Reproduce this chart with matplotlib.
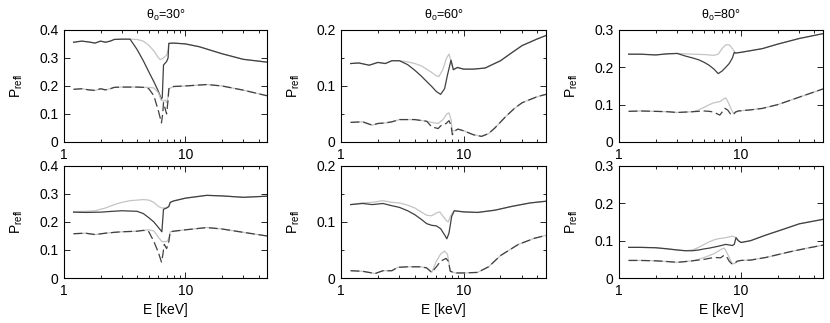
import numpy as np
import matplotlib
matplotlib.use('Agg')
import matplotlib.pyplot as plt
from matplotlib.ticker import MultipleLocator, LogLocator, NullFormatter, FixedLocator

plt.rcParams['font.family'] = ['Liberation Sans', 'DejaVu Sans']
plt.rcParams['mathtext.fontset'] = 'custom'
plt.rcParams['mathtext.rm'] = 'Liberation Sans'
plt.rcParams['mathtext.it'] = 'Liberation Sans:italic'

# ---- data (E in keV, P_refl) ----
angles = ['30', '60', '80']
ylims = [0.4, 0.2, 0.3]

# theta=30, top row
a_dark_E = [1.2, 1.4, 1.6, 1.8, 2.0, 2.2, 2.4, 2.6, 3.0, 3.5, 4.0, 4.5, 5.0, 5.5, 6.0, 6.35, 6.45, 6.6, 7.0, 7.2, 7.3, 8, 10, 13, 20, 30, 47]
a_dark_P = [0.356, 0.36, 0.357, 0.353, 0.36, 0.356, 0.36, 0.366, 0.367, 0.367, 0.33, 0.29, 0.25, 0.215, 0.18, 0.152, 0.16, 0.275, 0.287, 0.30, 0.352, 0.353, 0.35, 0.34, 0.315, 0.295, 0.285]
a_light_E = [1.2, 1.4, 1.6, 1.8, 2.0, 2.2, 2.4, 2.6, 3.0, 3.5, 4.0, 4.5, 5.0, 5.5, 6.0, 6.2, 6.5, 7.0, 7.2, 7.3, 8, 10, 13, 20, 30, 47]
a_light_P = [0.356, 0.36, 0.357, 0.353, 0.36, 0.356, 0.36, 0.366, 0.367, 0.367, 0.366, 0.36, 0.345, 0.325, 0.30, 0.294, 0.298, 0.31, 0.33, 0.352, 0.353, 0.35, 0.34, 0.315, 0.295, 0.285]
a_ldark_E = [1.2, 1.4, 1.6, 1.8, 2.0, 2.2, 2.4, 2.6, 3.0, 4.0, 4.5, 5.0, 5.5, 6.0, 6.35, 6.5, 6.6, 6.8, 7.0, 7.2, 7.3, 8, 10, 15, 20, 30, 47]
a_ldark_P = [0.188, 0.19, 0.186, 0.184, 0.19, 0.186, 0.19, 0.195, 0.196, 0.196, 0.195, 0.19, 0.165, 0.11, 0.068, 0.10, 0.14, 0.12, 0.10, 0.15, 0.19, 0.198, 0.20, 0.205, 0.20, 0.185, 0.165]
a_llight_E = [1.2, 1.4, 1.6, 1.8, 2.0, 2.2, 2.4, 2.6, 3.0, 4.0, 4.5, 5.0, 5.5, 6.0, 6.3, 6.6, 6.8, 7.0, 7.2, 7.3, 8, 10, 15, 20, 30, 47]
a_llight_P = [0.188, 0.19, 0.186, 0.184, 0.19, 0.186, 0.19, 0.195, 0.196, 0.196, 0.195, 0.195, 0.193, 0.175, 0.15, 0.145, 0.15, 0.14, 0.16, 0.19, 0.198, 0.20, 0.205, 0.20, 0.185, 0.165]

# theta=60, top row
b_dark_E = [1.2, 1.4, 1.7, 2.0, 2.3, 2.6, 3.0, 3.5, 4.0, 4.5, 5.0, 5.5, 6.0, 6.5, 7.0, 7.4, 7.9, 8.25, 8.9, 10, 12, 15, 20, 25, 30, 40, 47]
b_dark_P = [0.14, 0.141, 0.137, 0.142, 0.14, 0.145, 0.145, 0.138, 0.128, 0.118, 0.108, 0.099, 0.09, 0.085, 0.095, 0.12, 0.146, 0.129, 0.133, 0.13, 0.13, 0.132, 0.145, 0.16, 0.172, 0.184, 0.19]
b_light_E = [1.2, 1.4, 1.7, 2.0, 2.3, 2.6, 3.0, 3.5, 4.0, 4.5, 5.0, 5.5, 6.0, 6.3, 6.8, 7.2, 7.6, 7.9, 8.25, 8.9, 10, 12, 15, 20, 25, 30, 40, 47]
b_light_P = [0.14, 0.141, 0.137, 0.142, 0.14, 0.145, 0.145, 0.143, 0.14, 0.136, 0.13, 0.124, 0.118, 0.117, 0.13, 0.148, 0.157, 0.145, 0.129, 0.133, 0.13, 0.13, 0.132, 0.145, 0.16, 0.172, 0.184, 0.19]
b_ldark_E = [1.2, 1.5, 1.8, 2.0, 2.3, 2.6, 3.0, 4.0, 5.0, 5.5, 6.2, 6.6, 7.2, 7.6, 7.9, 8.1, 8.5, 9.0, 10, 12, 14, 16, 18, 22, 26, 30, 40, 47]
b_ldark_P = [0.035, 0.036, 0.03, 0.033, 0.034, 0.036, 0.04, 0.04, 0.037, 0.027, 0.024, 0.03, 0.033, 0.038, 0.03, 0.013, 0.02, 0.023, 0.02, 0.013, 0.01, 0.015, 0.025, 0.045, 0.06, 0.07, 0.081, 0.085]
b_llight_E = [1.2, 1.5, 1.8, 2.0, 2.3, 2.6, 3.0, 4.0, 5.0, 5.5, 6.2, 6.8, 7.3, 7.6, 7.9, 8.1, 8.5, 9.0, 10, 12, 14, 16, 18, 22, 26, 30, 40, 47]
b_llight_P = [0.035, 0.036, 0.03, 0.033, 0.034, 0.036, 0.04, 0.04, 0.037, 0.035, 0.033, 0.04, 0.05, 0.052, 0.04, 0.02, 0.02, 0.023, 0.02, 0.013, 0.01, 0.015, 0.025, 0.045, 0.06, 0.07, 0.081, 0.085]

# theta=80, top row
c_dark_E = [1.2, 1.5, 2.0, 2.5, 3.0, 3.5, 4.0, 4.5, 5.0, 5.5, 6.0, 6.5, 7.0, 7.5, 8.0, 8.5, 8.8, 9.0, 10, 15, 20, 30, 47]
c_dark_P = [0.235, 0.235, 0.233, 0.236, 0.237, 0.23, 0.225, 0.22, 0.213, 0.205, 0.195, 0.183, 0.19, 0.20, 0.21, 0.225, 0.24, 0.238, 0.24, 0.25, 0.262, 0.277, 0.29]
c_light_E = [1.2, 1.5, 2.0, 2.5, 3.0, 4.0, 5.0, 6.0, 6.5, 7.0, 7.5, 8.0, 8.5, 9.0, 10, 15, 20, 30, 47]
c_light_P = [0.235, 0.235, 0.233, 0.236, 0.237, 0.235, 0.234, 0.232, 0.235, 0.25, 0.26, 0.26, 0.25, 0.238, 0.24, 0.25, 0.262, 0.277, 0.29]
c_ldark_E = [1.2, 1.5, 2.0, 2.5, 3.0, 4.0, 5.0, 5.5, 6.0, 6.4, 6.7, 7.0, 7.4, 7.8, 8.2, 8.6, 9.0, 9.5, 12, 15, 20, 30, 47]
c_ldark_P = [0.082, 0.083, 0.082, 0.081, 0.079, 0.081, 0.083, 0.082, 0.08, 0.075, 0.072, 0.08, 0.09, 0.085, 0.075, 0.072, 0.08, 0.083, 0.086, 0.09, 0.10, 0.12, 0.142]
c_llight_E = [1.2, 1.5, 2.0, 2.5, 3.0, 4.0, 4.5, 5.0, 5.5, 6.0, 6.7, 7.2, 7.5, 7.8, 8.2, 8.6, 9.0, 9.5, 12, 15, 20, 30, 47]
c_llight_P = [0.082, 0.083, 0.082, 0.081, 0.079, 0.081, 0.086, 0.093, 0.10, 0.105, 0.108, 0.115, 0.118, 0.108, 0.092, 0.078, 0.08, 0.083, 0.086, 0.09, 0.10, 0.12, 0.142]

# theta=30, bottom row
d_dark_E = [1.2, 1.5, 2.0, 2.5, 3.0, 4.0, 4.5, 5.0, 5.5, 6.0, 6.4, 6.6, 7.0, 7.3, 7.5, 8, 10, 15, 20, 30, 47]
d_dark_P = [0.235, 0.234, 0.235, 0.238, 0.24, 0.238, 0.23, 0.215, 0.20, 0.18, 0.165, 0.245, 0.25, 0.255, 0.27, 0.275, 0.285, 0.295, 0.293, 0.288, 0.292]
d_light_E = [1.2, 1.5, 1.8, 2.2, 2.6, 3.0, 3.5, 4.0, 4.5, 5.0, 5.5, 6.0, 6.4, 7.0, 7.3, 7.5, 8, 10, 15, 20, 30, 47]
d_light_P = [0.237, 0.238, 0.24, 0.25, 0.262, 0.27, 0.276, 0.278, 0.28, 0.278, 0.27, 0.255, 0.25, 0.25, 0.255, 0.27, 0.275, 0.285, 0.295, 0.293, 0.288, 0.292]
d_ldark_E = [1.2, 1.5, 1.8, 2.2, 2.6, 3.0, 4.0, 4.5, 5.0, 5.5, 6.0, 6.35, 6.5, 6.7, 7.0, 7.3, 7.5, 8, 10, 15, 20, 30, 47]
d_ldark_P = [0.158, 0.16, 0.155, 0.16, 0.163, 0.165, 0.167, 0.17, 0.165, 0.13, 0.09, 0.057, 0.08, 0.12, 0.105, 0.13, 0.165, 0.167, 0.172, 0.18, 0.175, 0.163, 0.15]
d_llight_E = [1.2, 1.5, 1.8, 2.2, 2.6, 3.0, 4.0, 4.5, 5.0, 5.5, 6.0, 6.4, 7.0, 7.3, 7.5, 8, 10, 15, 20, 30, 47]
d_llight_P = [0.158, 0.16, 0.155, 0.16, 0.163, 0.165, 0.167, 0.17, 0.172, 0.168, 0.145, 0.13, 0.13, 0.14, 0.165, 0.167, 0.172, 0.18, 0.175, 0.163, 0.15]

# theta=60, bottom row
e_dark_E = [1.2, 1.5, 1.8, 2.2, 2.6, 3.0, 3.5, 4.0, 4.5, 5.0, 5.5, 6.0, 6.5, 7.0, 7.3, 7.6, 8.0, 8.4, 10, 13, 18, 25, 35, 47]
e_dark_P = [0.131, 0.133, 0.131, 0.133, 0.129, 0.126, 0.12, 0.113, 0.105, 0.097, 0.094, 0.093, 0.088, 0.077, 0.07, 0.08, 0.11, 0.12, 0.118, 0.117, 0.121, 0.128, 0.134, 0.137]
e_light_E = [1.2, 1.5, 1.8, 2.2, 2.6, 3.0, 3.5, 4.0, 4.5, 5.0, 5.5, 6.0, 6.4, 6.8, 7.2, 7.5, 7.8, 8.2, 8.4, 10, 13, 18, 25, 35, 47]
e_light_P = [0.131, 0.134, 0.135, 0.138, 0.135, 0.134, 0.13, 0.125, 0.118, 0.112, 0.111, 0.116, 0.118, 0.11, 0.103, 0.10, 0.11, 0.118, 0.12, 0.118, 0.117, 0.121, 0.128, 0.134, 0.137]
e_ldark_E = [1.2, 1.5, 1.9, 2.2, 2.6, 2.9, 3.5, 4.5, 5.0, 5.5, 6.0, 6.5, 7.2, 7.5, 7.8, 8.5, 10, 13, 16, 20, 28, 38, 47]
e_ldark_P = [0.013, 0.012, 0.008, 0.013, 0.013, 0.019, 0.02, 0.02, 0.018, 0.01, 0.02, 0.03, 0.035, 0.03, 0.012, 0.009, 0.009, 0.01, 0.02, 0.04, 0.06, 0.071, 0.076]
e_llight_E = [1.2, 1.5, 1.9, 2.2, 2.6, 2.9, 3.5, 4.5, 5.0, 5.5, 6.0, 6.5, 7.0, 7.4, 7.8, 8.5, 10, 13, 16, 20, 28, 38, 47]
e_llight_P = [0.013, 0.012, 0.008, 0.013, 0.013, 0.019, 0.02, 0.02, 0.018, 0.01, 0.03, 0.043, 0.048, 0.042, 0.012, 0.009, 0.009, 0.01, 0.02, 0.04, 0.06, 0.071, 0.076]

# theta=80, bottom row
f_dark_E = [1.2, 1.5, 2.0, 2.5, 3.0, 3.5, 4.0, 4.5, 5.0, 5.5, 6.5, 7.5, 8.5, 8.8, 9.1, 9.5, 10, 12, 16, 22, 30, 47]
f_dark_P = [0.082, 0.082, 0.081, 0.078, 0.075, 0.073, 0.073, 0.075, 0.078, 0.08, 0.085, 0.09, 0.087, 0.09, 0.108, 0.10, 0.095, 0.10, 0.115, 0.13, 0.145, 0.157]
f_light_E = [1.2, 1.5, 2.0, 2.5, 3.0, 3.5, 4.0, 4.5, 5.0, 5.5, 6.0, 6.5, 7.5, 8.5, 8.8, 9.1, 9.5, 10, 12, 16, 22, 30, 47]
f_light_P = [0.082, 0.082, 0.081, 0.078, 0.075, 0.073, 0.075, 0.082, 0.09, 0.097, 0.102, 0.105, 0.108, 0.112, 0.11, 0.108, 0.10, 0.095, 0.10, 0.115, 0.13, 0.145, 0.157]
f_ldark_E = [1.2, 1.5, 2.0, 2.5, 3.0, 3.5, 4.0, 5.0, 6.0, 6.8, 7.2, 7.6, 8.0, 8.4, 8.8, 9.3, 10, 12, 16, 25, 35, 47]
f_ldark_P = [0.047, 0.047, 0.046, 0.044, 0.042, 0.044, 0.046, 0.05, 0.055, 0.054, 0.06, 0.058, 0.045, 0.038, 0.038, 0.045, 0.047, 0.048, 0.055, 0.07, 0.08, 0.088]
f_llight_E = [1.2, 1.5, 2.0, 2.5, 3.0, 3.5, 4.0, 4.5, 5.0, 5.5, 6.0, 6.5, 7.0, 7.3, 7.6, 8.0, 8.4, 8.8, 9.3, 10, 12, 16, 25, 35, 47]
f_llight_P = [0.047, 0.047, 0.046, 0.044, 0.042, 0.044, 0.046, 0.05, 0.055, 0.06, 0.065, 0.072, 0.078, 0.08, 0.07, 0.055, 0.04, 0.038, 0.045, 0.047, 0.048, 0.055, 0.07, 0.08, 0.088]

panels = [
    [(a_dark_E, a_dark_P, a_light_E, a_light_P, a_ldark_E, a_ldark_P, a_llight_E, a_llight_P),
     (b_dark_E, b_dark_P, b_light_E, b_light_P, b_ldark_E, b_ldark_P, b_llight_E, b_llight_P),
     (c_dark_E, c_dark_P, c_light_E, c_light_P, c_ldark_E, c_ldark_P, c_llight_E, c_llight_P)],
    [(d_dark_E, d_dark_P, d_light_E, d_light_P, d_ldark_E, d_ldark_P, d_llight_E, d_llight_P),
     (e_dark_E, e_dark_P, e_light_E, e_light_P, e_ldark_E, e_ldark_P, e_llight_E, e_llight_P),
     (f_dark_E, f_dark_P, f_light_E, f_light_P, f_ldark_E, f_ldark_P, f_llight_E, f_llight_P)],
]

dark = '#404040'
light = '#c4c4c4'

fig = plt.figure(figsize=(8.3, 3.23), dpi=100)
lefts = [0.0771, 0.4108, 0.7458]
widths = [0.2446, 0.247, 0.2458]
bottoms = [0.5604, 0.1393]
height = 0.347

for r in range(2):
    for c in range(3):
        ax = fig.add_axes([lefts[c], bottoms[r], widths[c], height])
        dE, dP, lE, lP, ldE, ldP, llE, llP = panels[r][c]
        ax.plot(lE, lP, color=light, lw=0.9)
        ax.plot(dE, dP, color=dark, lw=0.9)
        ax.plot(llE, llP, color=light, lw=0.9)
        ax.plot(ldE, ldP, color=dark, lw=0.9, dashes=(7, 3))

        ax.set_xscale('log')
        ax.set_xlim(1, 47)
        ax.set_ylim(0, ylims[c])
        ax.xaxis.set_major_locator(FixedLocator([1, 10]))
        ax.xaxis.set_minor_locator(LogLocator(base=10, subs=np.arange(2, 10)))
        ax.xaxis.set_minor_formatter(NullFormatter())
        ax.set_xticklabels(['1', '10'])
        ax.yaxis.set_major_locator(MultipleLocator(0.1))
        ax.set_yticklabels(['0' if abs(t) < 1e-9 else f'{t:.1f}' for t in ax.get_yticks()])
        if c == 1:
            ax.yaxis.set_minor_locator(MultipleLocator(0.05))
        ax.tick_params(which='both', direction='in', top=True, right=True, labelsize=10, width=0.6)
        ax.tick_params(which='major', length=4.5, pad=4)
        ax.tick_params(which='minor', length=2.5)
        for s in ax.spines.values():
            s.set_linewidth(0.8)
        ax.set_ylabel('P$_{\\rm refl}$', fontsize=10, labelpad=10)
        if r == 0:
            ax.set_title('θ$_{\\rm o}$=' + angles[c] + '°', fontsize=9, pad=8)
        else:
            ax.set_xlabel('E [keV]', fontsize=10, labelpad=4)

fig.savefig('out.png', dpi=100)
